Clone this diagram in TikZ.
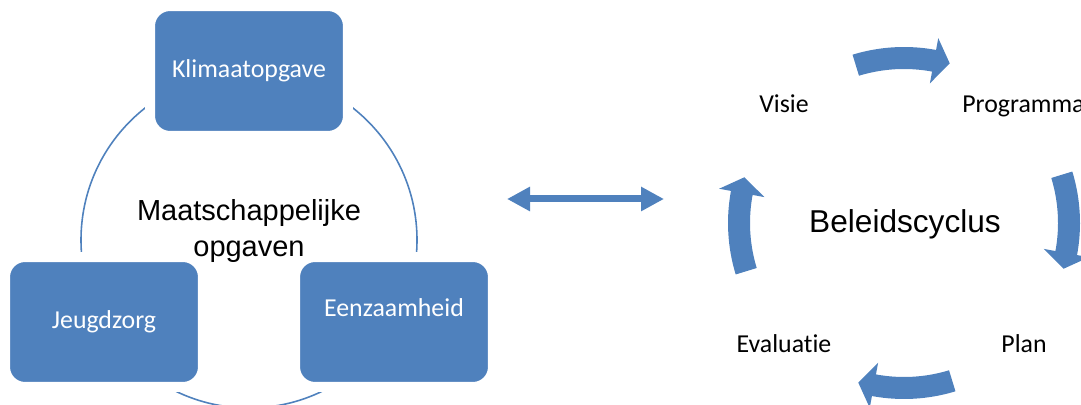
\documentclass[tikz,border=0pt]{standalone}
\usepackage{fontspec}
\setmainfont{Carlito}[Ligatures=NoCommon]
\newfontfamily\arialfont{Liberation Sans}
\usetikzlibrary{positioning,arrows.meta}
\definecolor{officeblue}{RGB}{79,129,189}
\tikzstyle{theme} = [rectangle, rounded corners=0.4cm, fill=officeblue, draw=white,
    line width=0.2cm, text=white, minimum width=3.96cm, minimum height=2.6cm,
    inner sep=0pt, font=\fontsize{14.7}{18}\selectfont]
\tikzstyle{phase} = [font=\fontsize{14.7}{18}\selectfont, anchor=base, inner sep=0pt]
\tikzstyle{ring} = [draw=officeblue, line width=0.9pt]
\tikzstyle{link} = [officeblue, line width=0.14cm,
    {Triangle[length=0.46cm,width=0.46cm]}-{Triangle[length=0.46cm,width=0.46cm]}]
\tikzstyle{turn} = [fill=officeblue]

\begin{document}
\begin{tikzpicture}[x=0.02cm, y=0.02cm]
    \useasboundingbox (0,0) rectangle (1081,405);
    % maatschappelijke opgaven
    \coordinate (ringc) at (249,165);
    \draw [ring] (ringc) circle [radius=168];
    \node [theme] (klimaat) at (249,334) {Klimaatopgave};
    \node [theme] (jeugd) at (104,83) {Jeugdzorg};
    \node [theme, text depth=0.56cm] (eenzaam) at (394,83) {Eenzaamheid};
    \node [align=center, font=\arialfont\fontsize{16.5}{20.4}\selectfont] (opgaven) at (249,174) {Maatschappelijke\\opgaven};
    % koppeling
    \coordinate (linkL) at (507,206);
    \coordinate (linkR) at (664,206);
    \draw [link] (linkL) -- (linkR);
    % beleidscyclus
    \coordinate (cyclus) at (904,182);
    \node [anchor=base, font=\arialfont\fontsize{18}{22}\selectfont] (beleid) at (905,172) {Beleidscyclus};
    \node [phase] (visie) at (784,292) {Visie};
    \node [phase, anchor=base west] (programma) at (962,292) {Programma};
    \node [phase] (evaluatie) at (784,52) {Evaluatie};
    \node [phase] (plan) at (1024,52) {Plan};
    \begin{scope}[shift={(cyclus)}]
    \foreach \a in {90,0,-90,180}
        \fill [turn] ({\a+17}:176) arc [start angle=\a+17, end angle=\a-10.5, radius=176]
            -- ({\a-10.5}:188) -- ({\a-16}:166) -- ({\a-10.5}:142) -- ({\a-10.5}:154)
            arc [start angle=\a-10.5, end angle=\a+17, radius=154] -- cycle;
    \end{scope}
\end{tikzpicture}
\end{document}
